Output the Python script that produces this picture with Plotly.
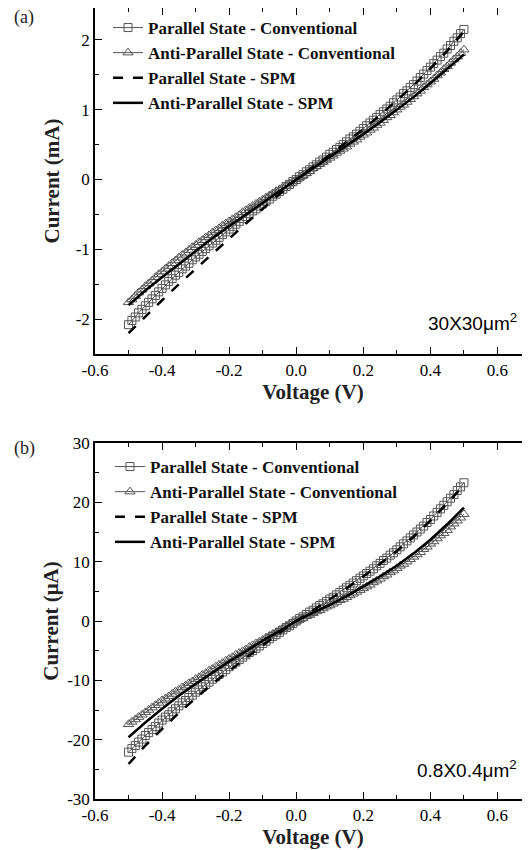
import plotly.graph_objects as go
from plotly.subplots import make_subplots

# voltage sweep of the conventional measurement (V)
volt_conv = [-0.50, -0.49, -0.48, -0.47, -0.46, -0.45, -0.44, -0.43, -0.42, -0.41,
             -0.40, -0.39, -0.38, -0.37, -0.36, -0.35, -0.34, -0.33, -0.32, -0.31,
             -0.30, -0.29, -0.28, -0.27, -0.26, -0.25, -0.24, -0.23, -0.22, -0.21,
             -0.20, -0.19, -0.18, -0.17, -0.16, -0.15, -0.14, -0.13, -0.12, -0.11,
             -0.10, -0.09, -0.08, -0.07, -0.06, -0.05, -0.04, -0.03, -0.02, -0.01,
             0.00,
             0.01, 0.02, 0.03, 0.04, 0.05, 0.06, 0.07, 0.08, 0.09, 0.10,
             0.11, 0.12, 0.13, 0.14, 0.15, 0.16, 0.17, 0.18, 0.19, 0.20,
             0.21, 0.22, 0.23, 0.24, 0.25, 0.26, 0.27, 0.28, 0.29, 0.30,
             0.31, 0.32, 0.33, 0.34, 0.35, 0.36, 0.37, 0.38, 0.39, 0.40,
             0.41, 0.42, 0.43, 0.44, 0.45, 0.46, 0.47, 0.48, 0.49, 0.50]

# voltage points of the SPM model curves (V)
volt_spm = [-0.50, -0.45, -0.40, -0.35, -0.30, -0.25, -0.20, -0.15, -0.10, -0.05, 0.00,
            0.05, 0.10, 0.15, 0.20, 0.25, 0.30, 0.35, 0.40, 0.45, 0.50]

# (a) 30x30 um^2, current in mA
a_p_conv = [-2.08, -2.02, -1.97, -1.91, -1.86, -1.81, -1.76, -1.71, -1.66, -1.61,
            -1.56, -1.51, -1.46, -1.42, -1.37, -1.33, -1.28, -1.24, -1.20, -1.15,
            -1.11, -1.07, -1.03, -0.99, -0.95, -0.91, -0.87, -0.83, -0.79, -0.75,
            -0.71, -0.67, -0.64, -0.60, -0.56, -0.53, -0.49, -0.45, -0.42, -0.38,
            -0.35, -0.31, -0.28, -0.24, -0.21, -0.17, -0.14, -0.10, -0.07, -0.03,
            0.00,
            0.04, 0.07, 0.11, 0.14, 0.18, 0.21, 0.25, 0.28, 0.32, 0.36,
            0.39, 0.43, 0.46, 0.50, 0.54, 0.58, 0.61, 0.65, 0.69, 0.73,
            0.77, 0.81, 0.85, 0.89, 0.93, 0.97, 1.01, 1.05, 1.10, 1.14,
            1.18, 1.23, 1.27, 1.32, 1.36, 1.41, 1.46, 1.51, 1.56, 1.61,
            1.66, 1.71, 1.76, 1.81, 1.87, 1.92, 1.98, 2.03, 2.09, 2.15]
a_ap_conv = [-1.76, -1.72, -1.67, -1.62, -1.58, -1.53, -1.49, -1.45, -1.40, -1.36,
             -1.32, -1.28, -1.24, -1.20, -1.16, -1.12, -1.08, -1.05, -1.01, -0.97,
             -0.94, -0.90, -0.87, -0.83, -0.80, -0.76, -0.73, -0.70, -0.66, -0.63,
             -0.60, -0.57, -0.54, -0.51, -0.47, -0.44, -0.41, -0.38, -0.35, -0.32,
             -0.29, -0.26, -0.23, -0.20, -0.17, -0.15, -0.12, -0.09, -0.06, -0.03,
             0.00,
             0.03, 0.06, 0.09, 0.12, 0.16, 0.19, 0.22, 0.25, 0.28, 0.31,
             0.34, 0.38, 0.41, 0.44, 0.47, 0.51, 0.54, 0.57, 0.61, 0.64,
             0.67, 0.71, 0.74, 0.78, 0.81, 0.85, 0.89, 0.92, 0.96, 1.00,
             1.04, 1.07, 1.11, 1.15, 1.19, 1.23, 1.27, 1.32, 1.36, 1.40,
             1.44, 1.49, 1.53, 1.58, 1.62, 1.67, 1.72, 1.76, 1.81, 1.86]
a_p_spm = [-2.20, -1.96, -1.73, -1.50, -1.28, -1.06, -0.85, -0.63, -0.42, -0.21, 0.00,
           0.18, 0.35, 0.54, 0.72, 0.92, 1.13, 1.35, 1.59, 1.84, 2.12]
a_ap_spm = [-1.80, -1.59, -1.40, -1.21, -1.02, -0.84, -0.67, -0.50, -0.33, -0.17, 0.00,
            0.16, 0.32, 0.49, 0.65, 0.82, 1.00, 1.18, 1.38, 1.58, 1.79]

# (b) 0.8x0.4 um^2, current in uA
b_p_conv = [-22.1, -21.5, -21.0, -20.4, -19.9, -19.3, -18.8, -18.3, -17.8, -17.2,
            -16.7, -16.2, -15.8, -15.3, -14.8, -14.3, -13.8, -13.4, -12.9, -12.5,
            -12.0, -11.6, -11.1, -10.7, -10.3, -9.8, -9.4, -9.0, -8.6, -8.2,
            -7.7, -7.3, -6.9, -6.5, -6.1, -5.7, -5.3, -5.0, -4.6, -4.2,
            -3.8, -3.4, -3.0, -2.6, -2.3, -1.9, -1.5, -1.1, -0.8, -0.4,
            0.0,
            0.4, 0.7, 1.1, 1.5, 1.8, 2.2, 2.6, 2.9, 3.3, 3.7,
            4.0, 4.4, 4.8, 5.2, 5.6, 6.0, 6.4, 6.8, 7.2, 7.6,
            8.0, 8.4, 8.8, 9.3, 9.7, 10.2, 10.6, 11.1, 11.5, 12.0,
            12.5, 13.0, 13.5, 14.0, 14.5, 15.0, 15.5, 16.0, 16.6, 17.1,
            17.7, 18.3, 18.9, 19.5, 20.1, 20.7, 21.3, 22.0, 22.6, 23.3]
b_ap_conv = [-17.4, -17.0, -16.6, -16.2, -15.8, -15.4, -15.0, -14.6, -14.2, -13.8,
             -13.4, -13.1, -12.7, -12.3, -11.9, -11.6, -11.2, -10.9, -10.5, -10.2,
             -9.8, -9.5, -9.1, -8.8, -8.4, -8.1, -7.7, -7.4, -7.1, -6.7,
             -6.4, -6.1, -5.7, -5.4, -5.1, -4.8, -4.4, -4.1, -3.8, -3.5,
             -3.2, -2.8, -2.5, -2.2, -1.9, -1.6, -1.3, -0.9, -0.6, -0.3,
             0.0,
             0.3, 0.5, 0.8, 1.0, 1.3, 1.6, 1.8, 2.1, 2.4, 2.6,
             2.9, 3.2, 3.5, 3.7, 4.0, 4.3, 4.6, 4.9, 5.2, 5.5,
             5.8, 6.1, 6.5, 6.8, 7.1, 7.5, 7.8, 8.2, 8.5, 8.9,
             9.3, 9.6, 10.0, 10.4, 10.8, 11.2, 11.6, 12.1, 12.5, 13.0,
             13.4, 13.9, 14.4, 14.8, 15.3, 15.9, 16.4, 16.9, 17.4, 18.0]
b_p_spm = [-24.1, -21.0, -18.2, -15.5, -13.0, -10.6, -8.4, -6.2, -4.1, -2.0, 0.0,
           1.8, 3.6, 5.5, 7.5, 9.6, 11.8, 14.2, 16.9, 19.8, 22.9]
b_ap_spm = [-19.6, -17.1, -14.8, -12.6, -10.6, -8.7, -6.8, -5.1, -3.3, -1.7, 0.0,
            1.4, 2.7, 4.2, 5.8, 7.5, 9.3, 11.4, 13.7, 16.3, 19.1]

names = ["Parallel State - Conventional", "Anti-Parallel State - Conventional",
         "Parallel State - SPM", "Anti-Parallel State - SPM"]

x_ticks = [-0.6, -0.4, -0.2, 0.0, 0.2, 0.4, 0.6]
x_text = ["-0.6", "-0.4", "-0.2", "0.0", "0.2", "0.4", "0.6"]
ya_ticks = [-2, -1, 0, 1, 2]
ya_text = ["-2", "-1", "0", "1", "2"]
yb_ticks = [-30, -20, -10, 0, 10, 20, 30]
yb_text = ["-30", "-20", "-10", "0", "10", "20", "30"]

SERIF = "Liberation Serif"
GREY = "#555555"
W, H = 530, 850
OFF = 8  # the page body adds an 8px margin, so positions are shifted back by it


def px(x):
    return (x - OFF) / W


def py(y):
    return 1 - (y - OFF) / H


fig = make_subplots(rows=2, cols=1)

panels = [(1, "legend", a_p_conv, a_ap_conv, a_p_spm, a_ap_spm),
          (2, "legend2", b_p_conv, b_ap_conv, b_p_spm, b_ap_spm)]
for row, leg, p_conv, ap_conv, p_spm, ap_spm in panels:
    fig.add_trace(go.Scatter(x=volt_conv, y=p_conv, name=names[0], legend=leg,
                             mode="lines+markers",
                             line=dict(color=GREY, width=1),
                             marker=dict(symbol="square-open", size=8, color=GREY,
                                         line=dict(width=1))), row=row, col=1)
    fig.add_trace(go.Scatter(x=volt_conv, y=ap_conv, name=names[1], legend=leg,
                             mode="lines+markers",
                             line=dict(color=GREY, width=1),
                             marker=dict(symbol="triangle-up-open", size=9, color=GREY,
                                         line=dict(width=1))), row=row, col=1)
    fig.add_trace(go.Scatter(x=volt_spm, y=p_spm, name=names[2], legend=leg,
                             mode="lines",
                             line=dict(color="black", width=2.5, dash="10px,10px")),
                  row=row, col=1)
    fig.add_trace(go.Scatter(x=volt_spm, y=ap_spm, name=names[3], legend=leg,
                             mode="lines",
                             line=dict(color="black", width=2.5)), row=row, col=1)

axis_common = dict(showline=True, linecolor="black", linewidth=1.5, mirror="allticks",
                   ticks="inside", ticklen=7, tickwidth=1.3, tickcolor="black",
                   showgrid=False, zeroline=False, automargin=False,
                   tickfont=dict(family=SERIF, size=17, color="black"))

fig.update_xaxes(range=[-0.6, 0.7], domain=[px(95), px(531)],
                 tickvals=x_ticks, ticktext=x_text,
                 minor=dict(ticks="inside", dtick=0.1, tick0=0, ticklen=4,
                            tickcolor="black", tickwidth=1.2),
                 title=dict(text="<b>Voltage (V)</b>", standoff=2,
                            font=dict(family=SERIF, size=21, color="#222")),
                 **axis_common)
# top of panel (a) sits at the page edge, so its range stops a little short of 2.5
fig.update_yaxes(range=[-2.5, 2.457], domain=[py(354), 1.0],
                 tickvals=ya_ticks, ticktext=ya_text,
                 minor=dict(ticks="inside", dtick=0.5, tick0=0, ticklen=4,
                            tickcolor="black", tickwidth=1.2),
                 title=dict(text="<b>Current (mA)</b>", standoff=10,
                            font=dict(family=SERIF, size=21, color="#222")),
                 row=1, col=1, **axis_common)
fig.update_yaxes(range=[-30, 30], domain=[py(799), py(443)],
                 tickvals=yb_ticks, ticktext=yb_text,
                 minor=dict(ticks="inside", dtick=5, tick0=0, ticklen=4,
                            tickcolor="black", tickwidth=1.2),
                 title=dict(text="<b>Current (μA)</b>", standoff=3,
                            font=dict(family=SERIF, size=21, color="#222")),
                 row=2, col=1, **axis_common)

legend_common = dict(xanchor="left", yanchor="top", bgcolor="rgba(0,0,0,0)",
                     itemwidth=30, tracegroupgap=0,
                     font=dict(family=SERIF, size=17, color="#111", weight="bold"))

fig.update_layout(
    template="none",
    font=dict(family=SERIF, color="black"),
    width=W, height=H,
    margin=dict(l=0, r=0, t=0, b=0, autoexpand=False),
    paper_bgcolor="white", plot_bgcolor="white",
    showlegend=True,
    legend=dict(x=100 / W, y=1 - 2 / H, **legend_common),
    legend2=dict(x=102 / W, y=1 - 441 / H, **legend_common),
    annotations=[
        dict(text="(a)", x=px(12), y=py(18), xref="paper", yref="paper",
             xanchor="left", yanchor="middle", showarrow=False,
             font=dict(family=SERIF, size=18, color="#222")),
        dict(text="(b)", x=px(12), y=py(448), xref="paper", yref="paper",
             xanchor="left", yanchor="middle", showarrow=False,
             font=dict(family=SERIF, size=18, color="#222")),
        dict(text="30X30μm<sup>2</sup>", x=px(519), y=py(322),
             xref="paper", yref="paper", xanchor="right", yanchor="middle",
             showarrow=False,
             font=dict(family="Liberation Sans", size=19, color="black")),
        dict(text="0.8X0.4μm<sup>2</sup>", x=px(519), y=py(769),
             xref="paper", yref="paper", xanchor="right", yanchor="middle",
             showarrow=False,
             font=dict(family="Liberation Sans", size=19, color="black")),
    ],
)

fig.write_html("out.html")
